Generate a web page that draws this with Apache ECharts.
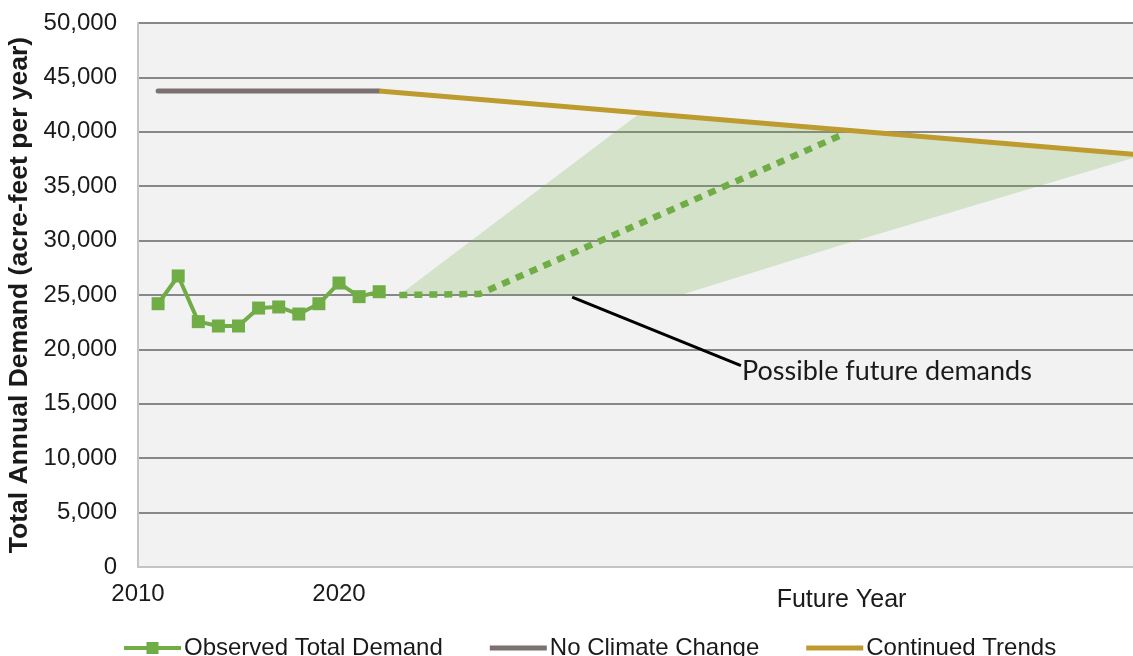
<!DOCTYPE html>
<html>
<head>
<meta charset="utf-8">
<script src="https://cdn.jsdelivr.net/npm/echarts@6/dist/echarts.min.js"></script>
<style>html,body{margin:0;padding:0;background:#fff}#c{width:1133px;height:656px}</style>
</head>
<body>
<div id="c"></div>
<script>
// Observed total demand
const obsYears = [2011, 2012, 2013, 2014, 2015, 2016, 2017, 2018, 2019, 2020, 2021, 2022];
const obsValues = [24200, 26750, 22550, 22150, 22150, 23800, 23900, 23250, 24200, 26100, 24850, 25300];
// No climate change
const noChangeYears = [2011, 2022];
const noChangeValues = [43750, 43750];
// Continued trends
const trendYears = [2022, 2060];
const trendValues = [43750, 37870];
// Projected (dotted) path
const projYears = [2023, 2027, 2045];
const projValues = [25000, 25100, 39700];
// Possible future demands band
const bandYears = [2023, 2035, 2037, 2045, 2060];
const bandUpper = [25000, 41740, 41430, 40190, 37870];
const bandLower = [25000, 25000, 25000, 29600, 37870];
// Annotation leader
const noteYears = [2031.6, 2040];
const noteValues = [24800, 18500];
const noteText = 'Possible future demands';
// Axis labels
const xTickLabels = {2010: '2010', 2020: '2020', 2045: 'Future Year'};
const yAxisTitle = 'Total Annual Demand (acre-feet per year)';
const legendNames = ['Observed Total Demand', 'No Climate Change', 'Continued Trends'];

const zip = (a, b) => a.map((v, i) => [v, b[i]]);
const font = 'Liberation Sans, Arial, sans-serif';
const lineMarkerIcon = 'path://M0,4H22.5V0H34.5V4H57V8H34.5V12H22.5V8H0Z';
const plainLineIcon = 'path://M0,0H57V5H0Z';

const chart = echarts.init(document.getElementById('c'), null, {renderer: 'canvas'});
chart.setOption({
  animation: false,
  backgroundColor: '#ffffff',
  grid: {left: 138, right: -10, top: 23, bottom: 89, show: true, backgroundColor: '#f2f2f2', borderWidth: 0,
         containLabel: false, outerBoundsMode: 'none'},
  legend: {
    data: [
      {name: legendNames[0], icon: lineMarkerIcon},
      {name: legendNames[1], icon: plainLineIcon},
      {name: legendNames[2], icon: plainLineIcon}
    ],
    symbolKeepAspect: true,
    left: 119, top: 631, itemWidth: 57, itemHeight: 12, itemGap: 47,
    itemStyle: {borderWidth: 0},
    textStyle: {fontFamily: font, fontSize: 24, color: '#1a1a1a', padding: [0, 0, 0, -2]}
  },
  xAxis: {
    type: 'value', min: 2010, max: 2060, interval: 5,
    axisLine: {show: true, lineStyle: {color: '#c4c4c4', width: 2}},
    axisTick: {show: false},
    splitLine: {show: false},
    axisLabel: {
      margin: 15, fontFamily: font, fontSize: 24, color: '#1a1a1a',
      showMinLabel: true, showMaxLabel: true, hideOverlap: false,
      formatter: v => {
        const t = xTickLabels[v];
        if (!t) return '';
        return t === 'Future Year' ? '{f|' + t + '}' : t;
      },
      rich: {f: {fontFamily: font, fontSize: 25, color: '#1a1a1a', padding: [6, 0, 0, 0]}}
    }
  },
  yAxis: {
    type: 'value', min: 0, max: 50000, interval: 5000,
    name: yAxisTitle, nameLocation: 'middle', nameRotate: 90, nameGap: 94,
    nameTextStyle: {fontFamily: font, fontSize: 26.5, fontWeight: 'bold', color: '#1a1a1a'},
    axisLine: {show: true, lineStyle: {color: '#c4c4c4', width: 2}},
    axisTick: {show: false},
    splitLine: {show: true, lineStyle: {color: '#888888', width: 2}},
    axisLabel: {
      margin: 21, fontFamily: font, fontSize: 24, color: '#1a1a1a',
      formatter: v => v.toLocaleString('en-US')
    }
  },
  series: [
    {
      type: 'custom', name: 'band', silent: true, z: 1,
      data: [[bandYears[0], bandUpper[0]]],
      renderItem: (params, api) => {
        const pts = [];
        for (let i = 0; i < bandYears.length; i++) pts.push(api.coord([bandYears[i], bandUpper[i]]));
        for (let i = bandYears.length - 1; i >= 0; i--) pts.push(api.coord([bandYears[i], bandLower[i]]));
        return {type: 'polygon', shape: {points: pts}, style: {fill: 'rgba(112,173,71,0.23)'}};
      }
    },
    {
      type: 'line', name: 'projection', z: 3, symbol: 'none',
      data: zip(projYears, projValues),
      lineStyle: {color: '#70ad47', width: 6.5, type: [8, 7], cap: 'butt'}
    },
    {
      type: 'line', name: 'leader', z: 3, symbol: 'none',
      data: zip(noteYears, noteValues),
      lineStyle: {color: '#000000', width: 3},
      endLabel: {show: true, formatter: noteText, distance: 1, fontFamily: 'Lato, Liberation Sans, sans-serif', fontSize: 27, color: '#1a1a1a', offset: [0, 6]}
    },
    {
      type: 'line', name: legendNames[1], z: 4, symbol: 'none',
      data: zip(noChangeYears, noChangeValues),
      itemStyle: {color: '#7b7170'},
      lineStyle: {color: '#7b7170', width: 5, cap: 'round'}
    },
    {
      type: 'line', name: legendNames[2], z: 4, symbol: 'none',
      data: zip(trendYears, trendValues),
      itemStyle: {color: '#bd9b2e'},
      lineStyle: {color: '#bd9b2e', width: 5}
    },
    {
      type: 'line', name: legendNames[0], z: 5,
      data: zip(obsYears, obsValues),
      symbol: 'rect', symbolSize: 13, showAllSymbol: true,
      itemStyle: {color: '#70ad47'},
      lineStyle: {color: '#70ad47', width: 4}
    }
  ]
});
</script>
</body>
</html>
